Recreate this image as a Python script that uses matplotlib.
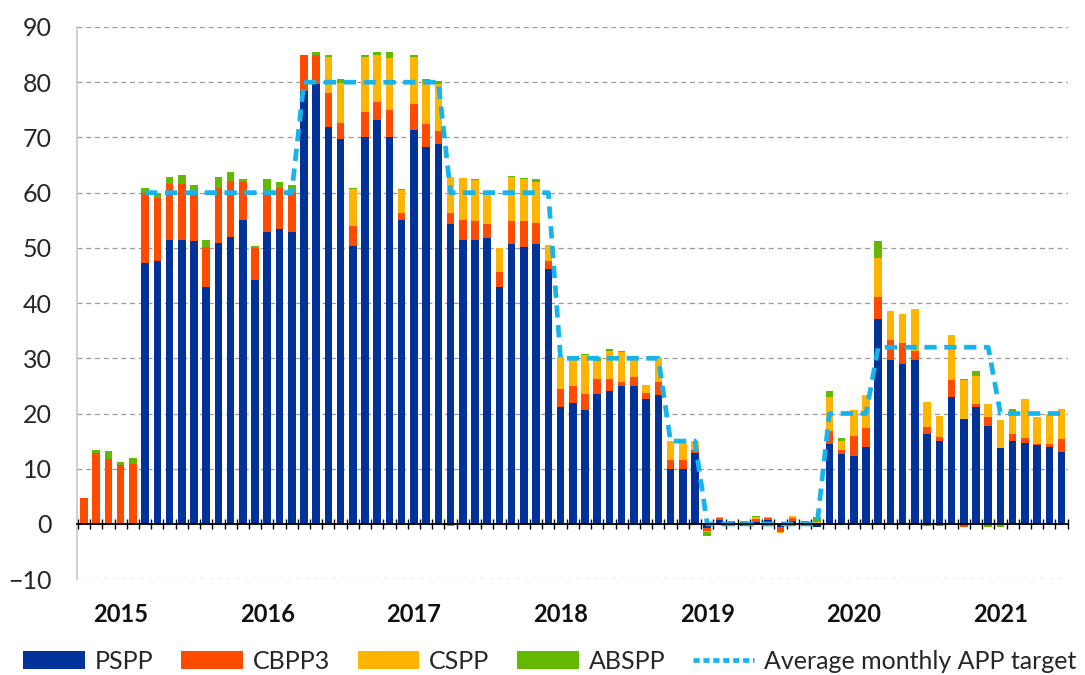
import numpy as np
import pandas as pd
import matplotlib
matplotlib.use("Agg")
import matplotlib.pyplot as plt
from matplotlib.lines import Line2D
from matplotlib.patches import Patch

plt.rcParams['font.family'] = ['Lato', 'DejaVu Sans']

# monthly net purchases, EUR bn, Oct 2014 - Jun 2021
months = pd.date_range("2014-10-01", "2021-06-01", freq="MS")

pspp = [0, 0, 0, 0, 0,
        47.3, 47.6, 51.5, 51.5, 51.2, 42.9, 50.9, 52.0, 55.1, 44.2,
        52.9, 53.4, 52.9, 78.4, 79.7, 71.9, 69.7, 50.4, 70.0, 73.1, 70.0, 55.1,
        71.3, 68.3, 68.8, 54.3, 51.5, 51.5, 51.8, 42.9, 50.7, 50.1, 50.7, 46.1,
        21.1, 21.9, 20.7, 23.6, 24.1, 25.0, 24.9, 22.7, 23.4, 9.9, 10.0, 12.9,
        -0.8, 0.8, 0.3, -0.3, 0.3, 0.8, -0.5, 0.5, 0.4, -0.6,
        14.5, 12.7,
        12.3, 14.0, 37.2, 29.7, 28.9, 29.7, 16.3, 15.1, 23.0, 19.0, 21.1, 17.8,
        13.7, 15.0, 14.7, 14.3, 13.9, 13.1]

cbpp3 = [4.7, 12.9, 11.8, 10.6, 10.9,
         12.7, 11.4, 10.0, 10.1, 8.8, 7.3, 10.0, 10.1, 6.8, 5.8,
         7.0, 7.5, 7.2, 6.6, 5.3, 6.2, 3.0, 3.6, 4.6, 3.3, 5.0, 1.2,
         4.8, 4.2, 2.3, 2.0, 3.6, 3.4, 2.5, 2.8, 4.2, 4.8, 3.8, 1.6,
         3.3, 3.0, 2.9, 2.7, 2.2, 0.7, 1.7, 1.1, 2.3, 1.7, 1.6, 0.5,
         -0.4, 0.2, 0.2, 0.0, 0.6, 0.3, -1.0, 0.6, 0.1, 0.2,
         2.4, 0.7,
         3.7, 3.3, 3.9, 3.6, 3.8, 1.6, 1.3, 0.6, 3.0, -0.6, 0.6, 1.5,
         0.1, 1.3, 0.9, 0.1, 0.6, 2.2]

cspp = [0, 0, 0, 0, 0,
        0, 0, 0, 0, 0, 0, 0, 0, 0, 0,
        0, 0, 0, 0, 0, 6.5, 7.2, 6.6, 9.9, 8.5, 9.3, 4.1,
        8.5, 7.7, 8.6, 6.6, 7.5, 7.3, 5.6, 4.3, 8.0, 7.5, 7.5, 2.9,
        5.8, 4.8, 7.0, 3.2, 5.0, 5.4, 3.1, 1.4, 4.3, 3.4, 3.0, 1.6,
        -0.3, 0.3, 0.1, 0.2, 0.3, 0.2, -0.2, 0.3, 0.0, 0.2,
        6.0, 1.7,
        4.7, 6.1, 7.1, 5.3, 5.4, 7.7, 4.5, 3.9, 8.3, 7.0, 5.1, 2.4,
        5.0, 3.6, 7.0, 5.0, 5.4, 5.5]

abspp = [0, 0.5, 1.4, 0.7, 1.1,
         0.9, 1.0, 1.4, 1.6, 1.3, 1.2, 2.0, 1.7, 0.5, 0.4,
         2.5, 1.1, 1.2, 0.0, 0.4, 0.4, 0.7, 0.2, 0.5, 0.5, 1.1, 0.3,
         0.4, 0.4, 0.5, -0.3, 0.0, 0.3, 0.0, 0.0, 0.1, 0.3, 0.4, 0.0,
         0.0, 0.0, 0.2, 0.7, 0.3, 0.3, 0.1, -0.2, 0.1, 0.0, 0.0, 0.1,
         -0.7, 0.0, -0.4, 0.3, 0.2, -0.4, 0.0, -0.3, -0.3, 0.9,
         1.2, 0.4,
         0.0, 0.0, 3.0, 0.0, 0.0, 0.0, -0.4, -0.4, 0.0, 0.2, 0.9, -0.5,
         -0.5, 0.9, 0.0, 0.0, 0.0, 0.0]

target = ([np.nan] * 5 + [60] * 13 + [80] * 12 + [60] * 9 + [30] * 9 + [15] * 3
          + [0] * 10 + [20] * 4 + [32] * 10 + [20] * 6)

years = ["2015", "2016", "2017", "2018", "2019", "2020", "2021"]

series = [("PSPP", pspp, "#003299"),
          ("CBPP3", cbpp3, "#FF4B00"),
          ("CSPP", cspp, "#FFB400"),
          ("ABSPP", abspp, "#65B800")]

x = np.arange(len(months))

fig = plt.figure(figsize=(10.85, 6.75), dpi=100)
ax = fig.add_axes([0.071, 0.142, 0.913, 0.818])

# stack positives up and negatives down
pos_base = np.zeros(len(x))
neg_base = np.zeros(len(x))
for name, vals, color in series:
    v = np.array(vals, dtype=float)
    pos = np.where(v > 0, v, 0)
    neg = np.where(v < 0, v, 0)
    ax.bar(x, pos, 0.62, bottom=pos_base, color=color, zorder=3)
    ax.bar(x, neg, 0.62, bottom=neg_base, color=color, zorder=3)
    pos_base += pos
    neg_base += neg

ax.plot(x, target, color="#16B4EC", lw=3.4, ls=(0, (2.6, 1.6)), zorder=4)

ax.set_ylim(-10, 90)
ax.set_yticks(np.arange(-10, 91, 10))
ax.set_xlim(-0.57, len(x) - 0.5)
ax.yaxis.grid(True, color="#9A9A9A", ls=(0, (4, 3)), lw=0.9)
ax.set_axisbelow(True)

for s in ["top", "right"]:
    ax.spines[s].set_visible(False)
ax.spines["left"].set_color("#C8C8C8")
ax.spines["left"].set_linewidth(1.2)
ax.spines["bottom"].set_position(("data", 0))
ax.spines["bottom"].set_color("black")
ax.spines["bottom"].set_linewidth(1.3)
ax.spines["bottom"].set_zorder(5)

jan_idx = [i for i, m in enumerate(months) if m.month == 1]
ax.set_xticks(jan_idx, labels=years)
ax.set_xticks(np.arange(-0.5, len(x), 1.0), minor=True)
ax.tick_params(axis="x", which="major", length=0, pad=57, labelsize=17, labelcolor="#111111")
ax.tick_params(axis="x", which="minor", direction="inout", length=7, width=1, color="black")
for lbl in ax.get_xticklabels():
    lbl.set_fontweight("bold")
ax.tick_params(axis="y", length=0, pad=18, labelsize=18, labelcolor="#262626")

handles = [Patch(facecolor=c, label=n) for n, _, c in series]
handles.append(Line2D([0], [0], color="#16B4EC", lw=3.4, ls=(0, (1.3, 0.8)),
                      label="Average monthly APP target"))
leg = fig.legend(handles=handles, loc="lower center", bbox_to_anchor=(0.507, -0.03), ncol=5,
                 frameon=False, fontsize=18, handlelength=2.45, handleheight=0.72,
                 handletextpad=0.4, columnspacing=1.12)
for t in leg.get_texts():
    t.set_color("#262626")

fig.savefig("out.png", dpi=100)
